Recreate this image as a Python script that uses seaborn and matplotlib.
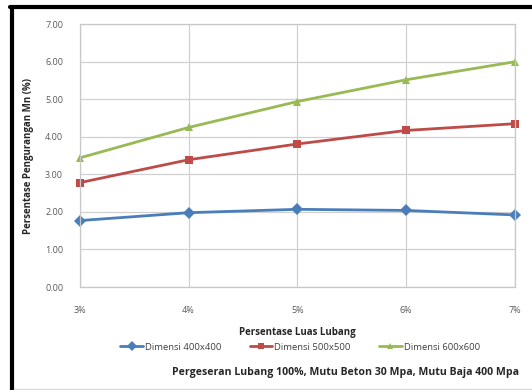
import pandas as pd
import seaborn as sns
import matplotlib.pyplot as plt
from matplotlib.lines import Line2D

# data
luas = [3, 4, 5, 6, 7]
luas_labels = ["3%", "4%", "5%", "6%", "7%"]
dim_400 = [1.77, 1.98, 2.07, 2.04, 1.92]
dim_500 = [2.78, 3.39, 3.81, 4.17, 4.35]
dim_600 = [3.44, 4.25, 4.94, 5.52, 6.00]
series_names = ["Dimensi 400x400", "Dimensi 500x500", "Dimensi 600x600"]
y_ticks = [0, 1, 2, 3, 4, 5, 6, 7]

colors = ["#4A7EBB", "#BE4B48", "#98B954"]
markers = ["D", "s", "^"]


def build_frame():
    rows = []
    for name, vals in zip(series_names, [dim_400, dim_500, dim_600]):
        for x, v in zip(luas, vals):
            rows.append({"luas": x, "nilai": v, "seri": name})
    return pd.DataFrame(rows)


def main():
    sns.set_style("white")
    plt.rcParams["font.family"] = ["Open Sans", "DejaVu Sans"]
    df = build_frame()

    fig = plt.figure(figsize=(5.32, 3.90), dpi=100)
    ax = fig.add_axes([0.150, 0.264, 0.818, 0.674])

    sns.lineplot(data=df, x="luas", y="nilai", hue="seri", style="seri",
                 palette=dict(zip(series_names, colors)),
                 markers=dict(zip(series_names, markers)),
                 dashes=False, linewidth=2, markersize=6.2,
                 markeredgewidth=0, ax=ax, legend=False)

    ax.set_xlim(3, 7)
    ax.set_ylim(0, 7)
    ax.set_xticks(luas)
    ax.set_xticklabels(luas_labels)
    ax.set_yticks(y_ticks)
    ax.set_yticklabels([f"{t:.2f}" for t in y_ticks])
    ax.tick_params(labelsize=6.5, colors="#595959", length=4, width=0.8,
                   direction="out", pad=8)
    ax.tick_params(axis="x", pad=10)
    ax.grid(True, color="#D0D0D0", linewidth=0.9)
    for s in ax.spines.values():
        s.set_color("#C8C8C8")
        s.set_linewidth(0.9)
    for line in ax.lines:
        line.set_clip_on(False)

    ax.set_xlabel("Persentase Luas Lubang", fontsize=7, fontweight="bold",
                  labelpad=8)
    ax.set_ylabel("Persentase Pengurangan Mn (%)", fontsize=7,
                  fontweight="bold", labelpad=8)

    handles = [Line2D([0], [0], color=c, marker=m, linewidth=2, markersize=5,
                      markeredgewidth=0) for c, m in zip(colors, markers)]
    fig.legend(handles, series_names, loc="center", ncol=3, frameon=False,
               bbox_to_anchor=(0.564, 1 - 347 / 390), fontsize=6.8,
               handlelength=2.4, handletextpad=0.2, columnspacing=3.0,
               labelcolor="#404040")

    fig.text(0.975, 1 - 373 / 390,
             "Pergeseran Lubang 100%, Mutu Beton 30 Mpa, Mutu Baja 400 Mpa",
             ha="right", va="center", fontsize=7.6, fontweight="bold")

    # black frame on the left and top, thin gray line at the bottom
    fig.add_artist(Line2D([12 / 532, 12 / 532], [0, 1 - 7 / 390],
                          transform=fig.transFigure, color="black", linewidth=3))
    fig.add_artist(Line2D([10 / 532, 1], [1 - 7 / 390, 1 - 7 / 390],
                          transform=fig.transFigure, color="black", linewidth=3))
    fig.add_artist(Line2D([14 / 532, 1], [1.5 / 390, 1.5 / 390],
                          transform=fig.transFigure, color="#D8D8D8", linewidth=1))

    fig.savefig("out.png", dpi=100)


if __name__ == "__main__":
    main()
